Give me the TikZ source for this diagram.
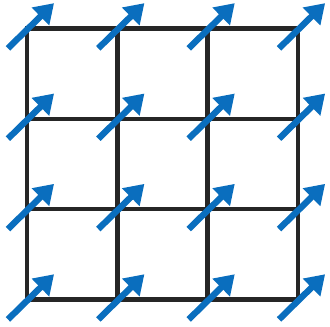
\documentclass[tikz,border=0pt]{standalone}
\usepackage{tikz}
\usetikzlibrary{arrows.meta,calc}
\definecolor{spinblue}{RGB}{10,110,190}
\tikzset{
  lattice/.style={draw=black!85,line width=2.8pt},
  spin/.style={-{Triangle[length=12pt,width=15pt]},spinblue,line width=4pt}
}

\begin{document}
\begin{tikzpicture}[x=2cm,y=2cm]
\useasboundingbox (-0.298,-0.298) rectangle (3.354,3.315);
% lattice sites
\foreach \i in {0,...,3}
  \foreach \j in {0,...,3}
    \coordinate (v-\i-\j) at (\i,\j);
% square lattice
\draw[lattice] (v-0-0) rectangle (v-3-3);
\foreach \k in {1,2} {
  \draw[lattice] (v-\k-0) -- (v-\k-3);
  \draw[lattice] (v-0-\k) -- (v-3-\k);
}
% spins, all pointing the same way
\foreach \i in {0,...,3}
  \foreach \j in {0,...,3}
    \draw[spin] ($(v-\i-\j)+(-0.21,-0.22)$) -- ($(v-\i-\j)+(0.3,0.28)$);
\end{tikzpicture}
\end{document}
